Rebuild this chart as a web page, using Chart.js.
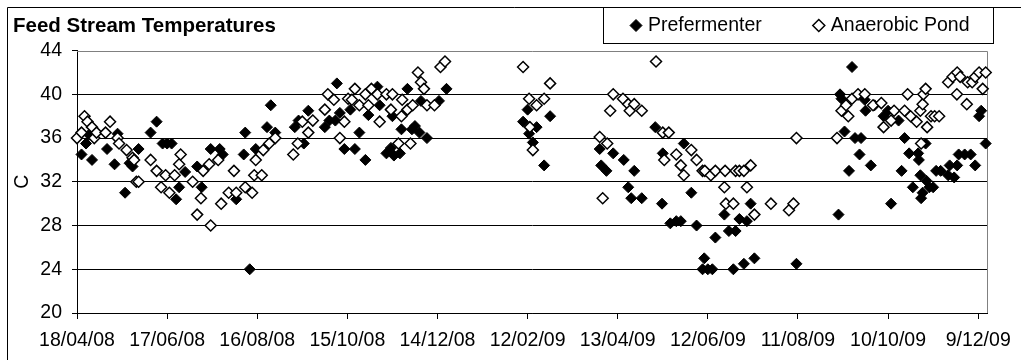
<!DOCTYPE html>
<html><head><meta charset="utf-8">
<script src="https://cdn.jsdelivr.net/npm/chart.js@4.4.1/dist/chart.umd.min.js"></script>
<style>html,body{margin:0;padding:0;background:#fff;}canvas{display:block;}</style>
</head><body>
<canvas id="c" width="1021" height="360"></canvas>
<script>
// ---- data (x = days after the first tick date, 18/04/08) ----
const xTickLabels = ['18/04/08','17/06/08','16/08/08','15/10/08','14/12/08','12/02/09','13/04/09','12/06/09','11/08/09','10/10/09','9/12/09'];
const yTicks = [20,24,28,32,36,40,44];

const prefDay  = [3,6,8,10,20,25,27,32,35,37,41,49,53,57,60,63,66,68,72,80,83,89,95,97,106,111,112,115,119,
  126.5,129,132,145,147.5,151,154,165,168,172,173,175,178,182,185,188,192,194,200,201.5,206,209,210,211,215,216,220,223,225,228,229,233,241,246,
  297,300,301,303.5,306,311,315,348,349,352.5,357,364,367,369,371,376,385,389.5,390,395,
  399,402,404,409,412.5,416.5,417.6,420,423,425,431,434,437,438.5,441,444,446,448.5,451,479,
  507,508,509,511,514,516,518,521,522,524.5,525,528.5,531,537,540,542,544,547,549,551,554,556.5,560,560.5,561.5,562,563,565,565.5,567.5,570,572,575,580,581,584,586,587,591,595,598,600.6,602,605];
const prefTemp = [34.5,35.5,36.3,34,35,33.6,36.4,31,33.7,33.4,35,36.5,37.5,35.5,35.5,35.5,30.4,31.5,32.9,33.4,31.5,35,35,34.5,30.4,34.5,36.5,24,35,
  37,39,36.5,37,37.6,35.5,38.5,37,37.6,37.6,41,38.3,35,38.6,35,36.5,34,38.1,40.7,39,34.6,35.1,38,34.4,34.6,36.8,40.5,36.8,37.1,36.5,39.4,36,39.4,40.5,
  37.5,38.6,36.4,35.6,37,33.5,38,35,33.5,33,34.6,34,31.5,30.5,33,30.5,37,30,34.6,28.2,
  28.4,28.4,35.5,31,28,24,25,24,24,26.9,29,27.5,24,27.5,28.6,24.5,28.4,30,25,24.5,
  29,40,39.6,36.6,33,42.5,36,34.5,36,39.5,38.5,33.5,39,38,38.5,30,38.5,37.6,33,36,34.6,31.5,34.6,34,32.6,30.5,31,35.5,32.1,31.5,31.5,33,33,32.6,33.5,32.4,33.5,34.5,34.5,34.5,33.5,38,38.5,35.5];

const pondDay  = [0,3,5,7,10,11.5,13,19,22,27,28,33,37,38,39.5,41,49,53,56,59,61.5,65,68,69,77,80,82.5,84,88,89,94,96,101,104.5,106,112,116.6,118,119,
  123,124,128,132,144,147,150,154,157,165,167,171,175,178,180.5,183,185,188,192,194,196,200,201.5,206,209,210,214,216,216.5,220,222,223.5,227,229,231,233,238,242,245,
  297,301,301.5,303.5,306,311,315,348,350,353,355,357,363.5,367,368,371,376,385.5,390,391,394,
  399,402,404,409,412.5,416.5,418,422,425,431,431.5,432,437,438.5,441,444,446,448.5,451,462,474,477,479,
  506,509,512,513.5,516,520,524.5,530,535.5,537,542,544,551,553,555,559,561.5,563,563.5,565,566,568.6,571,574,562,580,583,586,585.8,588,593,592.4,596,598,600.6,603,605];
const pondTemp = [36,36.5,38,37.5,37,36,36.5,36.5,37.5,36,35.5,34.9,34.2,34,32,32,34,33,31.5,32.6,31,32.6,33.6,34.5,32,29,30.5,33,33.6,28,34,30,31,33,31,31.5,31,32.6,34,
  32.6,34.9,35.5,36,34.5,35.5,37.5,36.5,37.6,38.6,40,39.5,36,37.5,39.6,39.5,40.5,39,40,39,40.5,40,37.5,40,38.6,40,35.5,38,39.5,38.6,35.5,39,42,41.1,40.5,39,39,42.5,43,
  42.5,39.6,37,34.9,39,39.6,41,36.1,30.5,35.5,38.5,40,39.6,39.1,38.5,39.1,38.5,43,36.5,34,36.5,
  34.5,33.5,32.6,34.9,34,33,33,32.6,33,31.5,33,30,30,33,33,33,31.5,33.5,29,30,29.4,30,36,
  36,38.5,39,38,39.6,40,40,39,39.2,37,37.6,38.5,38.5,40,38,37.5,38.5,39.1,40,40.5,37,38,38,38,35.5,41.1,41.6,42,40,41.6,41.1,39.1,41.1,41.6,42,40.5,42];

// ---- helpers ----
function parseDMY(s){const p=s.split('/').map(Number);return Date.UTC(2000+p[2],p[1]-1,p[0]);}
const origin = parseDMY(xTickLabels[0]);
const tickDays = xTickLabels.map(s => Math.round((parseDMY(s)-origin)/86400000));
const toPts = (xs, ys) => xs.map((x,i)=>({x:x,y:ys[i]}));

const FONT = "'Liberation Sans', Arial, sans-serif";
Chart.defaults.font.family = FONT;
Chart.defaults.font.size = 19.5;
Chart.defaults.color = '#000';

const frame = {
  id:'frame',
  beforeDatasetsDraw(chart){
    const ctx = chart.ctx, a = chart.chartArea;
    ctx.save();
    ctx.strokeStyle = '#808080'; ctx.lineWidth = 1;
    ctx.beginPath();
    ctx.moveTo(a.left, Math.round(a.top)+0.5);
    ctx.lineTo(Math.round(a.right)+0.5, Math.round(a.top)+0.5);
    ctx.lineTo(Math.round(a.right)+0.5, a.bottom);
    ctx.stroke();
    ctx.restore();
  },
  afterDraw(chart){
    const ctx = chart.ctx;
    ctx.save();
    ctx.strokeStyle = '#000'; ctx.lineWidth = 1;
    ctx.beginPath();
    ctx.moveTo(7.5, 360); ctx.lineTo(7.5, 7.5); ctx.lineTo(1021, 7.5);
    ctx.stroke();
    ctx.strokeRect(603.5, 7.5, 390, 36);
    ctx.font = '19.5px ' + FONT;
    ctx.textBaseline = 'middle'; ctx.textAlign = 'left';
    let x = 630;
    const y = 25.5;
    chart.data.datasets.forEach(ds => {
      ctx.fillStyle = ds.backgroundColor; ctx.strokeStyle = ds.borderColor; ctx.lineWidth = ds.borderWidth;
      ctx.beginPath();
      ctx.moveTo(x+6, y-6); ctx.lineTo(x+12, y); ctx.lineTo(x+6, y+6); ctx.lineTo(x, y); ctx.closePath();
      ctx.fill(); ctx.stroke();
      ctx.fillStyle = '#000';
      ctx.fillText(ds.label, x+18, y);
      x += 18 + ctx.measureText(ds.label).width + 51;
    });
    ctx.restore();
  }
};

new Chart(document.getElementById('c'), {
  type:'scatter',
  data:{datasets:[
    {label:'Prefermenter', data:toPts(prefDay,prefTemp), pointStyle:'rectRot', pointRadius:5.5, pointHoverRadius:5.5,
     backgroundColor:'#000', borderColor:'#000', borderWidth:1, order:1, clip:false},
    {label:'Anaerobic Pond', data:toPts(pondDay,pondTemp), pointStyle:'rectRot', pointRadius:5.5, pointHoverRadius:5.5,
     backgroundColor:'#fff', borderColor:'#000', borderWidth:1.5, order:0, clip:false}
  ]},
  options:{
    responsive:false, animation:false, devicePixelRatio:1,
    layout:{padding:{top:0,left:13,right:28,bottom:0}},
    plugins:{
      legend:{display:false}, tooltip:{enabled:false},
      title:{display:true, text:'Feed Stream Temperatures', align:'start', color:'#000',
        font:{size:20.5, weight:'bold', family:FONT}, padding:{top:14,bottom:12}}
    },
    scales:{
      x:{type:'linear', min:0, max:606,
        afterBuildTicks: ax => { ax.ticks = tickDays.map(v=>({value:v})); },
        afterFit: s => { s.height = 47; },
        grid:{drawOnChartArea:false, tickLength:6, color:'#000', tickColor:'#000'},
        border:{display:true, color:'#000', width:1},
        ticks:{autoSkip:false, maxRotation:0, padding:10, color:'#000',
          callback:(v,i)=>xTickLabels[i]}
      },
      y:{min:yTicks[0], max:yTicks[yTicks.length-1],
        afterBuildTicks: ax => { ax.ticks = yTicks.map(v=>({value:v})); },
        afterFit: s => { s.width = 64; },
        grid:{tickLength:5, color: c => c.tick && c.tick.value===44 ? 'rgba(0,0,0,0)' : '#000', tickColor:'#000'},
        border:{display:true, color:'#000', width:1},
        ticks:{padding:10, color:'#000'},
        title:{display:true, text:'C', color:'#000', font:{size:19.5, lineHeight:1}, padding:{top:0,bottom:0}}
      }
    }
  },
  plugins:[frame]
});
</script>
</body></html>
